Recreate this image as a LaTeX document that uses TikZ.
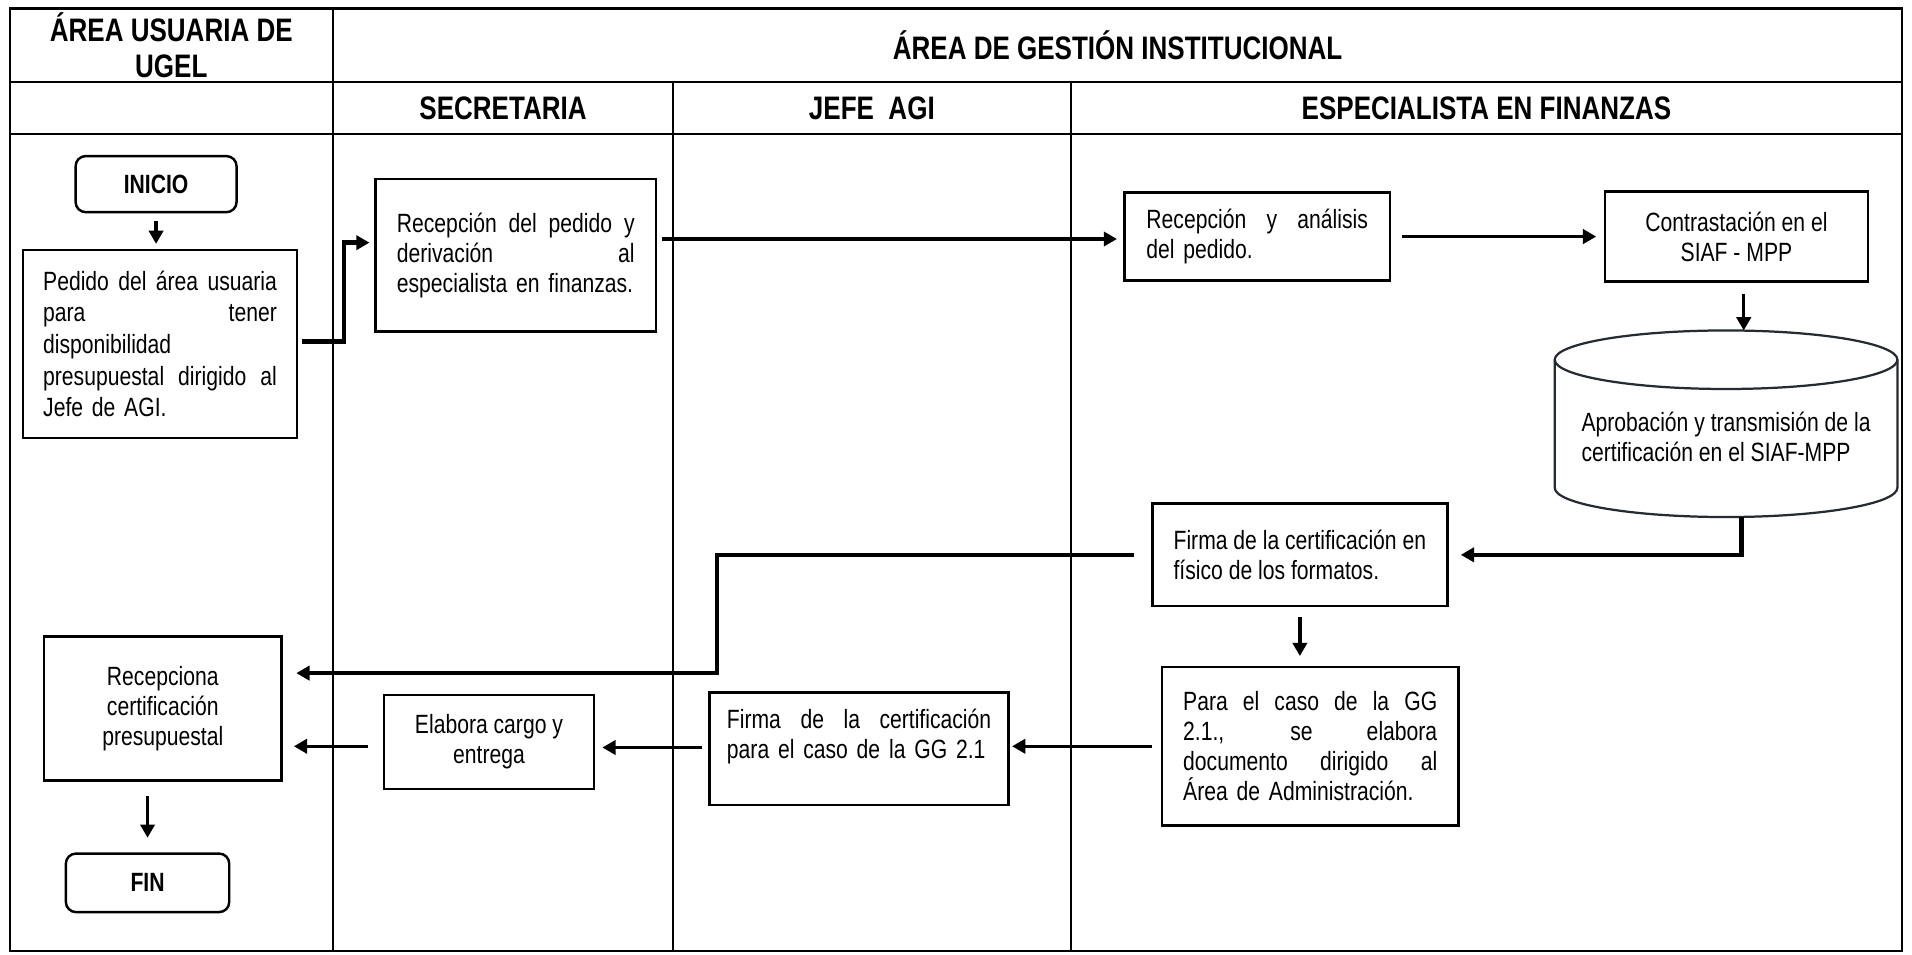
\documentclass[tikz,border=0pt]{standalone}
\usepackage{fontspec}
\setmainfont{Liberation Sans}[FakeStretch=0.80]
\usetikzlibrary{arrows.meta,calc}
\newcommand\txtf{\fontsize{13pt}{14.8pt}\selectfont}
\newcommand\txtwide{\fontsize{13pt}{15.6pt}\selectfont}
\newcommand\hdrf{\fontsize{16pt}{18pt}\selectfont\bfseries}
\newcommand\jl[2]{{\spaceskip=0.22em plus 1fil minus 0.06em\xspaceskip=\spaceskip\makebox[#1][s]{#2}}}
\begin{document}
\begin{tikzpicture}[x=0.6pt,y=0.6pt,
  tbl/.style={line width=1.1pt},
  rect/.style args={#1/#2/#3/#4}{minimum width={(#3-#1)*0.6pt}, minimum height={(#4-#2)*0.6pt}, at={({(#1+#3)/2},{-(#2+#4)/2})}},
  box/.style={draw, line width=1.2pt, inner sep=0pt, font=\txtf},
  term/.style={box, rounded corners=5pt, font=\txtf\bfseries},
  hdr/.style={font=\hdrf, align=center, inner sep=0pt},
  cylline/.style={draw={rgb,255:red,38;green,43;blue,51}, line width=1.1pt},
  arr/.style={line width=1.6pt, -{Triangle[length=6.5pt,width=7pt]}},
  arrthick/.style={arr, line width=2.2pt},
]
\useasboundingbox (0,0) rectangle (1568,-783);
\fill[white] (0,0) rectangle (1568,-783);

% table
\draw[tbl] (8,-7) rectangle (1560,-780);
\draw[tbl] (8,-67) -- (1560,-67);
\draw[tbl] (8,-110) -- (1560,-110);
\draw[tbl] (273,-7) -- (273,-780);
\draw[tbl] (552,-67) -- (552,-780);
\draw[tbl] (878,-67) -- (878,-780);

% headers
\node[hdr] (hUgel) at (140.5,-37) {ÁREA USUARIA DE\\UGEL};
\node[hdr] (hAgi) at (916.5,-37) {ÁREA DE GESTIÓN INSTITUCIONAL};
\node[hdr] (hSec) at (412.5,-88.5) {SECRETARIA};
\node[hdr] (hJefe) at (715,-88.5) {JEFE\ \ AGI};
\node[hdr] (hEsp) at (1219,-88.5) {ESPECIALISTA EN FINANZAS};

% nodes
\node[term, rect=62/128/194/174] (inicio) {INICIO};
\node[box, rect=19/205/243.5/359, font=\txtwide, text width=115pt, align=left] (pedido)
  {\jl{115pt}{Pedido del área usuaria}\\\jl{115pt}{para\hfill tener}\\disponibilidad\\\jl{115pt}{presupuestal dirigido al}\\Jefe de AGI.};
\node[box, rect=308/147/538/272, text width=117pt, align=left] (recep)
  {\jl{117pt}{Recepción del pedido y}\\\jl{117pt}{derivación\hfill al}\\especialista en finanzas.};
\node[box, rect=922/158/1140/230, text width=109pt, align=left] (analisis)
  {\jl{109pt}{Recepción y análisis}\\del pedido.};
\node[box, rect=1316/157/1532/231, align=center] (contrast)
  {Contrastación en el\\SIAF - MPP};

% cylinder
\draw[cylline] (1275,-295) -- (1275,-400)
  arc[start angle=180, end angle=360, x radius=84.3pt, y radius=14.4pt] -- (1556,-295);
\draw[cylline] (1415.5,-295) ellipse [x radius=84.3pt, y radius=14.4pt];
\node[font=\txtf, align=left, inner sep=0pt] (cyl) at (1415.5,-358)
  {Aprobación y transmisión de la\\certificación en el SIAF-MPP};
\coordinate (cyltop) at (1430,-271);
\coordinate (cylbot) at (1428,-424);

\node[box, rect=945/413/1187/497, align=left] (firma)
  {Firma de la certificación en\\físico de los formatos.};
\node[box, rect=953/547/1196/677, text width=125pt, align=left] (para)
  {\jl{125pt}{Para el caso de la GG}\\\jl{125pt}{2.1., se elabora}\\\jl{125pt}{documento dirigido al}\\Área de Administración.};
\node[box, rect=582/568/827/660, text width=130pt, align=left] (firmagg)
  {\jl{130pt}{Firma de la certificación}\\para el caso de la GG 2.1\\\mbox{}};
\node[box, rect=315/570/487/647, align=center] (elabora)
  {Elabora cargo y\\entrega};
\node[box, rect=36/522/231/640, align=center] (recepciona)
  {Recepciona\\certificación\\presupuestal};
\node[term, rect=54/700/188/748] (fin) {FIN};

% connectors
\draw[arr] ($(inicio.south)+(0,-6)$) -- ($(inicio.south |- pedido.north)+(0,4)$);
\draw[arrthick] ($(pedido.east)+(3,2)$) -| ($(recep.west)+(-25,10.5)$) -- ($(recep.west)+(-4,10.5)$);
\draw[arr] ($(recep.east)+(4,13.5)$) -- ($(analisis.west)+(-5,-2)$);
\draw[arr] ($(analisis.east)+(9,0)$) -- ($(contrast.west)+(-6,0)$);
\draw[arr] ($(contrast.south)+(6,-9)$) -- (cyltop);
\draw[arrthick] (cylbot) |- ($(firma.east)+(10,0)$);
\draw[arrthick] ($(firma.west)+(-14,0)$) -| ($(recepciona.east)+(356,29)$) -- ($(recepciona.east)+(11,29)$);
\draw[arr] ($(firma.south)+(0,-8)$) -- ($(firma.south |- para.north)+(0,8)$);
\draw[arr] ($(para.west)+(-7,0)$) -- ($(para.west -| firmagg.east)+(2,0)$);
\draw[arr] ($(firmagg.west)+(-5,1)$) -- ($(firmagg.west -| elabora.east)+(6,1)$);
\draw[arr] ($(elabora.west)+(-12,-3.5)$) -- ($(elabora.west -| recepciona.east)+(9,-3.5)$);
\draw[arr] ($(fin.north |- recepciona.south)+(0,-12)$) -- ($(fin.north)+(0,12)$);
\end{tikzpicture}
\end{document}
